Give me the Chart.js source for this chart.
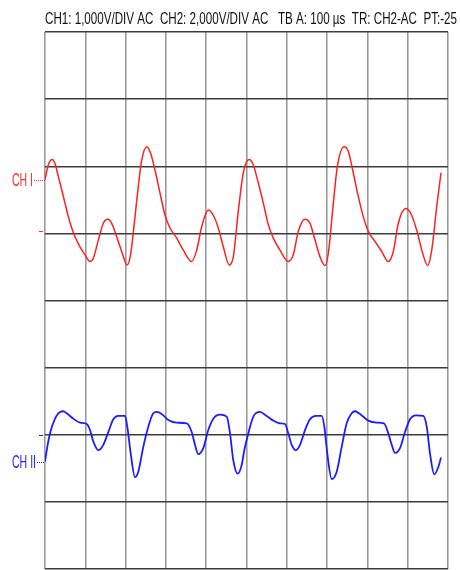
<!DOCTYPE html>
<html>
<head>
<meta charset="utf-8">
<title>Scope capture</title>
<script src="https://cdn.jsdelivr.net/npm/chart.js@4/dist/chart.umd.min.js"></script>
<style>
  html, body { margin: 0; padding: 0; background: #ffffff; }
  #scope { display: block; }
</style>
</head>
<body>
<canvas id="scope" width="460" height="570"></canvas>
<script>
// Header line of the capture
const headerText = 'CH1: 1,000V/DIV AC  CH2: 2,000V/DIV AC   TB A: 100 \u00b5s  TR: CH2-AC  PT:-25';

// Time axis: 10 divisions of 100 µs; vertical axis: 8 divisions
const timeTicks = [0, 100, 200, 300, 400, 500, 600, 700, 800, 900, 1000];
const divTicks = [-4, -3, -2, -1, 0, 1, 2, 3, 4];

// Channel 1 trace (time in µs, position in divisions)
const ch1Time = [0, 8.2, 18.1, 24.8, 33.0, 41.4, 49.6, 57.8, 66.3, 74.4, 86.8, 99.3, 111.7, 119.9, 132.3, 144.7,
  155.6, 165.5, 177.9, 190.3, 204.2, 212.7, 221.6, 231.5, 240.0, 252.4, 262.3, 273.0, 285.4, 297.8, 310.2,
  326.8, 343.2, 364.0, 376.4, 388.8, 405.2, 417.6, 430.0, 442.4, 457.3, 467.2, 480.0, 492.6, 506.9, 516.9,
  529.3, 541.7, 554.1, 566.5, 583.1, 603.7, 616.1, 628.5, 645.2, 657.6, 670.0, 682.4, 694.8, 703.0, 713.9,
  725.3, 742.0, 752.6, 765.0, 777.4, 789.8, 802.2, 818.9, 835.5, 851.9, 864.3, 876.7, 895.0, 907.4, 922.3,
  937.3, 949.6, 959.6, 972.0, 982.6];
const ch1Div = [1.80, 2.02, 2.10, 2.04, 1.85, 1.65, 1.45, 1.25, 1.08, 0.95, 0.80, 0.68, 0.58, 0.63, 0.90, 1.15,
  1.21, 1.15, 0.95, 0.73, 0.53, 0.70, 1.15, 1.70, 2.09, 2.29, 2.19, 1.94, 1.60, 1.27, 1.08,
  0.93, 0.75, 0.58, 0.75, 1.10, 1.35, 1.27, 1.08, 0.80, 0.53, 0.65, 1.35, 1.92, 2.10, 2.02,
  1.75, 1.45, 1.13, 0.93, 0.75, 0.58, 0.68, 1.03, 1.21, 1.15, 0.90, 0.65, 0.52, 0.70, 1.35,
  1.99, 2.29, 2.22, 1.90, 1.55, 1.25, 1.03, 0.88, 0.73, 0.58, 0.73, 1.15, 1.37, 1.30, 1.05,
  0.70, 0.52, 0.75, 1.40, 1.90];

// Channel 2 trace (time in µs, position in divisions)
const ch2Time = [0, 5.7, 12.4, 24.8, 37.2, 45.4, 53.8, 70.2, 86.8, 103.5, 111.7, 119.9, 132.3, 144.7, 157.1,
  169.5, 181.9, 198.5, 204.2, 212.7, 223.3, 231.5, 243.9, 256.3, 268.7, 277.2, 289.6, 306.0, 326.8, 351.6,
  364.0, 372.2, 380.4, 392.8, 405.2, 417.6, 434.3, 450.9, 459.1, 467.2, 478.2, 488.1, 494.5, 504.5, 516.9,
  533.5, 550.1, 566.5, 583.1, 595.6, 603.7, 612.2, 622.1, 632.8, 645.2, 657.6, 672.5, 686.6, 693.1, 700.5,
  711.4, 723.8, 736.2, 748.6, 761.0, 769.2, 781.6, 802.2, 823.1, 841.2, 851.9, 860.3, 868.5, 880.9, 893.3,
  905.7, 920.6, 938.7, 947.2, 955.4, 966.0, 976.0, 982.6];
const ch2Div = [-2.40, -2.18, -1.98, -1.76, -1.66, -1.65, -1.68, -1.76, -1.82, -1.84, -1.93, -2.10, -2.23, -2.15, -1.96,
  -1.77, -1.72, -1.72, -1.88, -2.28, -2.63, -2.55, -2.18, -1.88, -1.68, -1.66, -1.69, -1.78, -1.82, -1.83,
  -1.96, -2.15, -2.29, -2.20, -1.93, -1.76, -1.70, -1.73, -1.98, -2.38, -2.58, -2.45, -2.23, -1.98, -1.73,
  -1.66, -1.72, -1.79, -1.83, -1.84, -1.98, -2.15, -2.23, -2.15, -1.93, -1.77, -1.72, -1.72, -1.88, -2.28,
  -2.66, -2.55, -2.18, -1.83, -1.68, -1.65, -1.69, -1.79, -1.82, -1.83, -1.98, -2.15, -2.27, -2.20, -1.96,
  -1.77, -1.71, -1.72, -1.88, -2.28, -2.59, -2.48, -2.34];

// Channel markers on the left edge (positions in divisions)
const channelNames = ['CH I', 'CH II'];
const channelColors = ['#ff2a2a', '#2020ff'];
const channelLevels = [1.80, -2.41];
const triggerMarks = [1.04, -2.0];

const toPoints = (xs, ys) => xs.map((x, i) => ({ x: x, y: ys[i] }));

// Header text and channel markers drawn on top of the grid
const scopeAnnotations = {
  id: 'scopeAnnotations',
  afterDraw(chart) {
    const ctx = chart.ctx;
    const xScale = chart.scales.x;
    const yScale = chart.scales.y;
    const left = xScale.getPixelForValue(0);
    ctx.save();
    ctx.fillStyle = '#111111';
    ctx.font = '16.5px "Liberation Sans", Arial, sans-serif';
    ctx.textBaseline = 'alphabetic';
    ctx.textAlign = 'left';
    ctx.fillText(headerText, left, 24, 412);

    channelNames.forEach((name, i) => {
      const y = yScale.getPixelForValue(channelLevels[i]);
      ctx.fillStyle = channelColors[i];
      ctx.strokeStyle = channelColors[i];
      ctx.font = '18.5px "Liberation Sans", Arial, sans-serif';
      ctx.textBaseline = 'middle';
      const w = i === 0 ? 21 : 24;
      ctx.fillText(name, 12, y + 1, w);
      ctx.lineWidth = 1;
      ctx.setLineDash([1, 1]);
      ctx.beginPath();
      ctx.moveTo(12 + w + 1, Math.round(y) + 0.5);
      ctx.lineTo(left, Math.round(y) + 0.5);
      ctx.stroke();
      ctx.setLineDash([]);
      const ty = yScale.getPixelForValue(triggerMarks[i]);
      ctx.beginPath();
      ctx.moveTo(left - 6, Math.round(ty) + 0.5);
      ctx.lineTo(left - 2, Math.round(ty) + 0.5);
      ctx.stroke();
    });
    ctx.restore();
  }
};

new Chart(document.getElementById('scope'), {
  type: 'line',
  data: {
    datasets: [
      {
        label: 'CH1',
        data: toPoints(ch1Time, ch1Div),
        borderColor: '#ff2020',
        borderWidth: 1.5,
        pointRadius: 0,
        cubicInterpolationMode: 'monotone',
        fill: false
      },
      {
        label: 'CH2',
        data: toPoints(ch2Time, ch2Div),
        borderColor: '#1c1cff',
        borderWidth: 1.8,
        pointRadius: 0,
        cubicInterpolationMode: 'monotone',
        fill: false
      }
    ]
  },
  options: {
    responsive: false,
    animation: false,
    events: [],
    layout: { padding: { left: 45, right: 12, top: 32, bottom: 1 } },
    plugins: {
      legend: { display: false },
      tooltip: { enabled: false },
      title: { display: false }
    },
    scales: {
      x: {
        type: 'linear',
        min: timeTicks[0],
        max: timeTicks[timeTicks.length - 1],
        afterBuildTicks(scale) { scale.ticks = timeTicks.map(v => ({ value: v })); },
        ticks: { display: false },
        border: { display: false },
        grid: { color: '#9b9b9b', lineWidth: 1.6, drawTicks: false }
      },
      y: {
        type: 'linear',
        min: divTicks[0],
        max: divTicks[divTicks.length - 1],
        afterBuildTicks(scale) { scale.ticks = divTicks.map(v => ({ value: v })); },
        ticks: { display: false },
        border: { display: false },
        grid: { color: '#3c3c3c', lineWidth: 1.4, drawTicks: false }
      }
    }
  },
  plugins: [scopeAnnotations]
});
</script>
</body>
</html>
